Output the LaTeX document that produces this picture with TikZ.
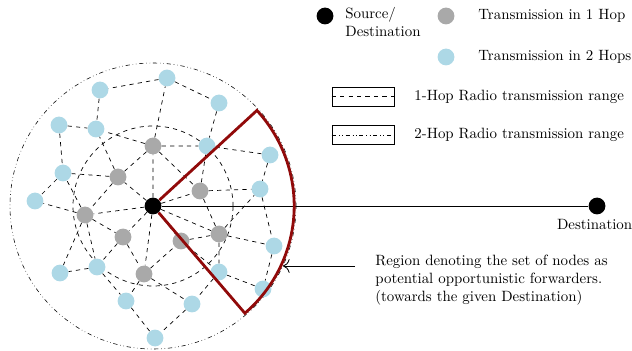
\documentclass[tikz,border=0pt]{standalone}
\usetikzlibrary{positioning, arrows.meta}
\definecolor{onehop}{RGB}{169,169,169}
\definecolor{twohop}{RGB}{173,216,230}
\definecolor{fwdred}{RGB}{145,10,10}

\begin{document}
\begin{tikzpicture}[font=\fontsize{10.6pt}{12.9pt}\selectfont,
  src/.style={circle, fill=black, minimum size=0.42cm, inner sep=0},
  hopa/.style={circle, fill=onehop, minimum size=0.42cm, inner sep=0},
  hopb/.style={circle, fill=twohop, minimum size=0.42cm, inner sep=0},
  lnk/.style={dashed, line width=0.5pt},
  lbl/.style={align=left},
  keybox/.style={draw, rectangle, minimum width=1.55cm, minimum height=0.48cm, inner sep=0}]
  \useasboundingbox (0,0) rectangle (15.8,8.75);

  \draw[dashed, line width=0.5pt] (3.825,3.6) circle (2.0);
  \draw[dash dot dot, line width=0.4pt] (3.825,3.6) circle (3.575);

  \node[src] (s) at (3.825,3.6) {};
  \node[hopa] (g1) at (3.825,5.1) {};  \node[hopa] (g2) at (2.95,4.325) {};
  \node[hopa] (g3) at (2.125,3.375) {}; \node[hopa] (g4) at (3.075,2.825) {};
  \node[hopa] (g5) at (3.6,1.9) {};    \node[hopa] (g6) at (4.525,2.725) {};
  \node[hopa] (g7) at (5.475,2.9) {};  \node[hopa] (g8) at (5.0,3.975) {};

  \node[hopb] (b1) at (4.175,6.8) {};   \node[hopb] (b2) at (2.5,6.5) {};
  \node[hopb] (b3) at (5.475,6.175) {}; \node[hopb] (b4) at (1.475,5.625) {};
  \node[hopb] (b5) at (2.4,5.525) {};   \node[hopb] (b6) at (5.175,5.1) {};
  \node[hopb] (b7) at (6.75,4.875) {};  \node[hopb] (b8) at (1.575,4.425) {};
  \node[hopb] (b9) at (6.5,4.025) {};   \node[hopb] (b10) at (0.875,3.725) {};
  \node[hopb] (b11) at (6.85,2.6) {};   \node[hopb] (b12) at (5.475,1.95) {};
  \node[hopb] (b13) at (2.425,2.075) {}; \node[hopb] (b14) at (1.5,1.925) {};
  \node[hopb] (b15) at (6.575,1.525) {}; \node[hopb] (b16) at (3.15,1.225) {};
  \node[hopb] (b17) at (4.8,1.15) {};   \node[hopb] (b18) at (3.875,0.3) {};

  \draw[lnk] (s)--(g1) (s)--(g2) (s)--(g3) (s)--(g4) (s)--(g5) (s)--(g6) (s)--(g7) (s)--(g8);
  \draw[lnk] (g1)--(b1) (g1)--(b5) (g1)--(b6) (g1)--(g2) (g1)--(g8);
  \draw[lnk] (g2)--(b5) (g2)--(b8) (g2)--(g3);
  \draw[lnk] (g3)--(b8) (g3)--(b10) (g3)--(g4) (g3)--(b13) (g3)--(b14);
  \draw[lnk] (g4)--(b13) (g4)--(g5) (g5)--(g6) (g5)--(b16) (g5)--(b17);
  \draw[lnk] (g6)--(g7) (g6)--(b12) (g7)--(g8) (g7)--(b9) (g7)--(b11) (g7)--(b12);
  \draw[lnk] (g8)--(b6) (g8)--(b9);
  \draw[lnk] (b1)--(b2) (b1)--(b3) (b2)--(b5) (b3)--(b6) (b4)--(b5) (b4)--(b8);
  \draw[lnk] (b6)--(b7) (b7)--(b9) (b8)--(b10) (b9)--(b11) (b11)--(b15);
  \draw[lnk] (b12)--(b15) (b12)--(b17) (b13)--(b14) (b13)--(b16) (b16)--(b18) (b17)--(b18);

  \node[src] (dst) at (14.925,3.6) {};
  \node (dsttxt) [below=0pt of dst, xshift=-0.06cm] {Destination};
  \draw[line width=0.6pt] (s) -- (dst);

  \draw[fwdred, line width=2pt] (s) -- ++(42.6:3.53) arc[start angle=42.6, end angle=-49.4, radius=3.53] -- (s);

  \coordinate (rtail) at (8.875,2.1); \coordinate (rtip) at (7.075,2.1);
  \draw[line width=0.6pt, -{To[scale=1.6]}] (rtail) -- (rtip);
  \node[lbl, anchor=north west] (regtxt) at (9.26,2.5)
    {Region denoting the set of nodes as\\ potential opportunistic forwarders.\\ (towards the given Destination)};

  \node[src] (ksrc) at (8.125,8.35) {};
  \node[lbl, anchor=north west] (srctxt) at (8.51,8.69) {Source/\\Destination};
  \node[hopa] (kone) at (11.15,8.35) {};
  \node[lbl, right=0.47cm of kone] (onetxt) {Transmission in 1 Hop};
  \node[hopb] (ktwo) at (11.15,7.325) {};
  \node[lbl, right=0.47cm of ktwo] (twotxt) {Transmission in 2 Hops};

  \node[keybox] (keya) at (9.075,6.34) {};
  \draw[dashed, line width=0.5pt] (keya.west) -- (keya.east);
  \node[lbl, right=0.38cm of keya] (rngatxt) {1-Hop Radio transmission range};
  \node[keybox] (keyb) at (9.075,5.375) {};
  \draw[dash dot dot, line width=0.4pt] (keyb.west) -- (keyb.east);
  \node[lbl, right=0.38cm of keyb] (rngbtxt) {2-Hop Radio transmission range};
\end{tikzpicture}
\end{document}
